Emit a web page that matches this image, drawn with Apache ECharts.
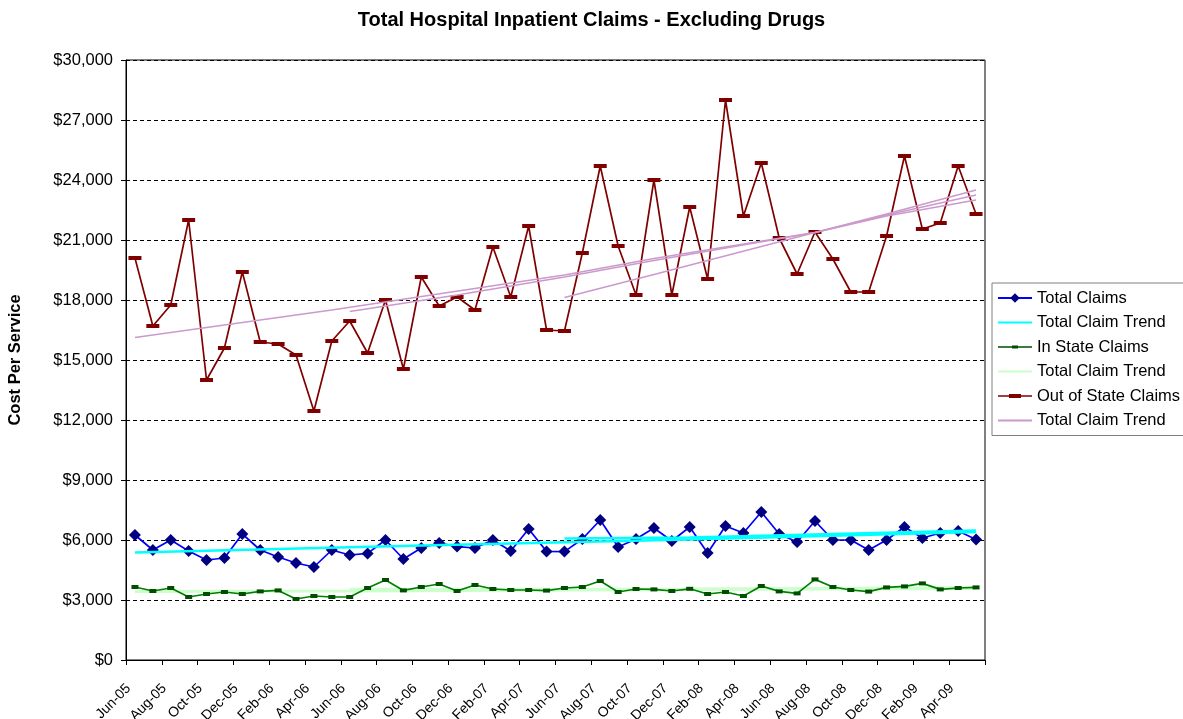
<!DOCTYPE html>
<html>
<head>
<meta charset="utf-8">
<script src="https://cdn.jsdelivr.net/npm/echarts@6/dist/echarts.min.js"></script>
<style>
html,body{margin:0;padding:0;background:#fff;}
#chart{width:1183px;height:719px;}
</style>
</head>
<body>
<div id="chart"></div>
<script>
const categories = [
 'Jun-05','Jul-05','Aug-05','Sep-05','Oct-05','Nov-05','Dec-05','Jan-06','Feb-06','Mar-06','Apr-06','May-06',
 'Jun-06','Jul-06','Aug-06','Sep-06','Oct-06','Nov-06','Dec-06','Jan-07','Feb-07','Mar-07','Apr-07','May-07',
 'Jun-07','Jul-07','Aug-07','Sep-07','Oct-07','Nov-07','Dec-07','Jan-08','Feb-08','Mar-08','Apr-08','May-08',
 'Jun-08','Jul-08','Aug-08','Sep-08','Oct-08','Nov-08','Dec-08','Jan-09','Feb-09','Mar-09','Apr-09','May-09'
];
const totalClaims = [
 6250,5500,6000,5450,5000,5100,6300,5500,5150,4850,4650,5500,
 5250,5330,6000,5050,5600,5850,5670,5600,6000,5450,6550,5430,
 5420,6050,7000,5650,6050,6600,5950,6650,5350,6700,6350,7400,
 6300,5900,6950,6000,6000,5500,6000,6650,6100,6350,6450,6030
];
const inStateClaims = [
 3650,3450,3600,3150,3300,3400,3300,3430,3480,3050,3200,3150,
 3150,3600,4000,3480,3650,3800,3450,3750,3550,3500,3500,3470,
 3600,3650,3950,3400,3550,3530,3450,3560,3300,3400,3200,3700,
 3430,3330,4030,3650,3500,3420,3630,3680,3830,3530,3600,3630
];
const outStateClaims = [
 20100,16700,17750,22000,14000,15600,19400,15900,15800,15250,12450,15950,
 16950,15350,18000,14550,19150,17700,18150,17500,20650,18150,21700,16500,
 16450,20350,24700,20700,18250,24000,18250,22650,19050,28000,22200,24850,
 21100,19300,21400,20050,18400,18400,21200,25200,21550,21850,24700,22300
];
// trend lines: [category index, value]
const totalTrendA = [[0,5370],[16,5730],[31,6030],[47,6400]];
const totalTrendB = [[24,6080],[31,6130],[47,6470]];
const inTrendA = [[0,3420],[12,3450],[31,3530],[47,3570]];
const inTrendB = [[12,3540],[31,3550],[47,3610]];
const outTrendA = [[0,16130],[11,17500],[24,19250],[29,20080],[38,21380],[42,22200],[47,23000]];
const outTrendB = [[12,17430],[18,18250],[24,19150],[29,19970],[38,21380],[42,22250],[47,23250]];
const outTrendC = [[24,18120],[29,19280],[38,21380],[42,22300],[47,23500]];
const yTicks = {min:0, max:30000, interval:3000};

const chart = echarts.init(document.getElementById('chart'), null, {renderer:'canvas'});
const font = 'Liberation Sans, Arial, sans-serif';
function trend(name, data, color, width, z){
  return {name:name, type:'line', data:data, symbol:'none', connectNulls:true, silent:true,
    lineStyle:{color:color, width:width}, itemStyle:{color:color}, z:z};
}
const hideSym = {opacity:0};
const option = {
  animation:false,
  backgroundColor:'#fff',
  textStyle:{fontFamily:font, color:'#000'},
  title:{text:'Total Hospital Inpatient Claims - Excluding Drugs', left:'center', top:5,
    textStyle:{fontFamily:font, fontSize:20, fontWeight:'bold', color:'#000'}},
  grid:{left:126, top:60, right:198, bottom:59, show:true, borderColor:'#000', borderWidth:1,
    containLabel:false, outerBoundsMode:'none'},
  legend:{
    data:[
      {name:'Total Claims'},
      {name:'Total Claim Trend', itemStyle:hideSym},
      {name:'In State Claims', icon:'path://M0,0L0.01,0Z M34,12L33.99,12Z M0,5.2H34V6.8H0Z M14,4.5H20V7.5H14Z'},
      {name:'Total Claim Trend\u200b', itemStyle:hideSym},
      {name:'Out of State Claims', icon:'path://M0,0L0.01,0Z M34,12L33.99,12Z M0,5.2H34V6.8H0Z M11,4H23V8H11Z'},
      {name:'Total Claim Trend\u200b\u200b', itemStyle:hideSym}
    ],
    orient:'vertical', left:992, top:283, padding:[6,40,6,5], itemGap:6.5,
    itemWidth:34, itemHeight:12, symbolKeepAspect:false,
    borderColor:'#808080', borderWidth:1, backgroundColor:'#fff',
    textStyle:{fontFamily:font, fontSize:16.5, color:'#000', lineHeight:18}
  },
  xAxis:{type:'category', data:categories, boundaryGap:true,
    axisLine:{lineStyle:{color:'#000', width:1}},
    axisTick:{show:true, length:5, lineStyle:{color:'#000'}},
    axisLabel:{interval:1, rotate:45, fontFamily:font, fontSize:14, color:'#000', margin:20, padding:[0,9,0,0]},
    splitLine:{show:false}
  },
  yAxis:{type:'value', min:yTicks.min, max:yTicks.max, interval:yTicks.interval,
    name:'Cost Per Service', nameLocation:'middle', nameGap:102, nameRotate:90,
    nameTextStyle:{fontFamily:font, fontSize:16.5, fontWeight:'bold', color:'#000'},
    axisLine:{show:true, lineStyle:{color:'#000'}},
    axisTick:{show:true, length:5, lineStyle:{color:'#000'}},
    axisLabel:{fontFamily:font, fontSize:16.5, color:'#000', margin:13,
      formatter:function(v){return '$'+v.toLocaleString('en-US');}},
    splitLine:{show:true, lineStyle:{color:'#000', type:[4,3], width:1}}
  },
  series:[
    {name:'Total Claims', type:'line', data:totalClaims, symbol:'diamond', symbolSize:12, showAllSymbol:true,
     lineStyle:{color:'#0000ff', width:1.7}, itemStyle:{color:'#000080'}, z:3},
    {name:'In State Claims', type:'line', data:inStateClaims, symbol:'rect', symbolSize:[7,4], showAllSymbol:true,
     lineStyle:{color:'#008000', width:1.7}, itemStyle:{color:'#004d00'}, z:3},
    {name:'Out of State Claims', type:'line', data:outStateClaims, symbol:'rect', symbolSize:[13,4], showAllSymbol:true,
     lineStyle:{color:'#800000', width:1.7}, itemStyle:{color:'#800000'}, z:3},
    trend('Total Claim Trend', totalTrendA, '#00ffff', 2.5, 4),
    trend('cyan2', totalTrendB, '#00ffff', 2.5, 4),
    trend('Total Claim Trend\u200b', inTrendA, '#ccffcc', 3, 2),
    trend('green2', inTrendB, '#ccffcc', 3, 2),
    trend('Total Claim Trend\u200b\u200b', outTrendA, '#cc99cc', 1.5, 4),
    trend('pink2', outTrendB, '#cc99cc', 1.5, 4),
    trend('pink3', outTrendC, '#cc99cc', 1.5, 4)
  ]
};
chart.setOption(option);
</script>
</body>
</html>
